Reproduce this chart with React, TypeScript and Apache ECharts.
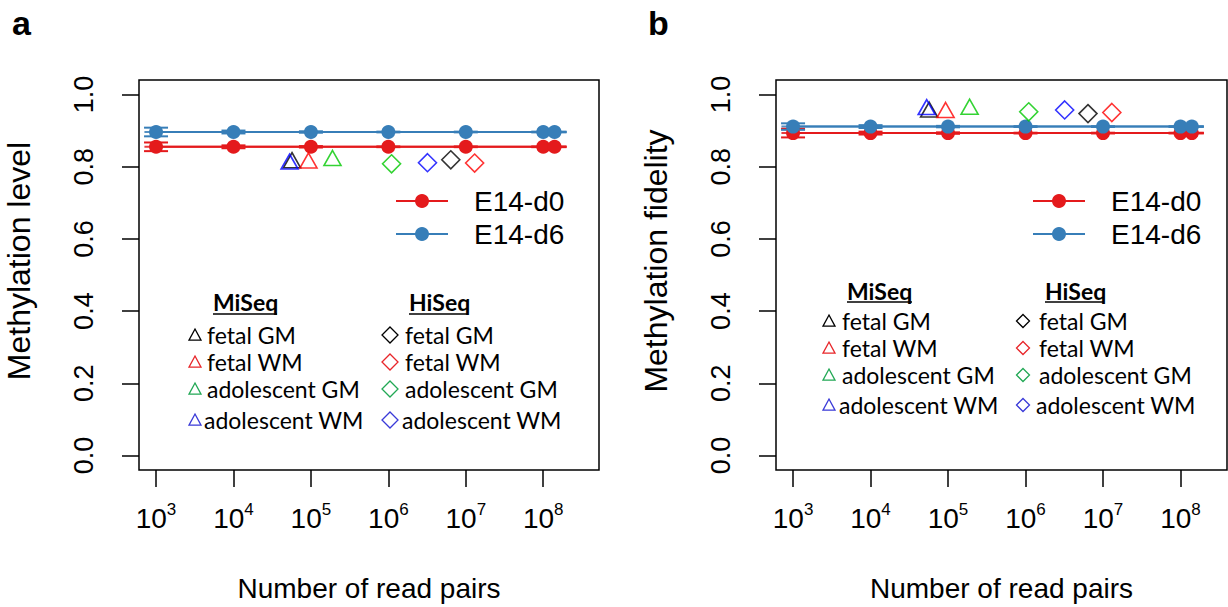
import React, { useEffect, useRef } from "react";
import * as echarts from "echarts";

// ---------- data ----------
const READ_PAIRS = [1e3, 1e4, 1e5, 1e6, 1e7, 1e8, 1.4e8];
const FIT_X = [708, 2.0e8];

const LEVEL_D0 = [0.855, 0.855, 0.855, 0.855, 0.855, 0.855, 0.855];
const LEVEL_D0_ERR = [0.012, 0.004, 0.002, 0.001, 0.001, 0.001, 0.001];
const LEVEL_D6 = [0.896, 0.896, 0.896, 0.896, 0.896, 0.896, 0.896];
const LEVEL_D6_ERR = [0.012, 0.004, 0.002, 0.001, 0.001, 0.001, 0.001];

const FID_D0 = [0.893, 0.893, 0.893, 0.893, 0.893, 0.893, 0.893];
const FID_D0_ERR = [0.012, 0.004, 0.002, 0.001, 0.001, 0.001, 0.001];
const FID_D6 = [0.911, 0.911, 0.911, 0.911, 0.911, 0.911, 0.911];
const FID_D6_ERR = [0.009, 0.004, 0.002, 0.001, 0.001, 0.001, 0.001];

// samples: fetal GM, fetal WM, adolescent GM, adolescent WM
const SAMPLE_NAMES = ["fetal GM", "fetal WM", "adolescent GM", "adolescent WM"];
const SAMPLE_COLORS = ["#000000", "#FF0000", "#00C800", "#0000FF"];
const LEGEND_COLORS = ["#000000", "#E8262A", "#22A855", "#3A3AD8"];
const MISEQ_READS = [5.7e4, 9.3e4, 1.9e5, 5.3e4];
const HISEQ_READS = [6.4e6, 1.3e7, 1.1e6, 3.2e6];
const MISEQ_LEVEL = [0.818, 0.817, 0.824, 0.814];
const HISEQ_LEVEL = [0.819, 0.81, 0.808, 0.811];
const MISEQ_FID = [0.958, 0.957, 0.966, 0.965];
const HISEQ_FID = [0.947, 0.95, 0.952, 0.957];

const X_TICKS = [3, 4, 5, 6, 7, 8];
const Y_TICKS = [0, 0.2, 0.4, 0.6, 0.8, 1.0];

const RED = "#E41A1C";
const BLUE = "#377EB8";
const AXIS_FONT = "Liberation Sans, Arial, sans-serif";
const LEG_FONT = "Lato, Open Sans, sans-serif";

const lg = (v: number) => Math.log10(v);

function errSeries(grid: number, ys: number[], errs: number[], color: string) {
  return {
    type: "custom",
    xAxisIndex: grid,
    yAxisIndex: grid,
    z: 4,
    silent: true,
    data: READ_PAIRS.map((x, i) => [lg(x), ys[i], errs[i]]),
    renderItem: (params: any, api: any) => {
      const x = api.value(0);
      const y = api.value(1);
      const e = api.value(2);
      const lo = api.coord([x, y - e]);
      const hi = api.coord([x, y + e]);
      const hw = 12;
      const st = { stroke: color, lineWidth: 2 };
      return {
        type: "group",
        children: [
          { type: "line", shape: { x1: lo[0], y1: lo[1], x2: hi[0], y2: hi[1] }, style: st },
          { type: "line", shape: { x1: lo[0] - hw, y1: lo[1], x2: lo[0] + hw, y2: lo[1] }, style: st },
          { type: "line", shape: { x1: hi[0] - hw, y1: hi[1], x2: hi[0] + hw, y2: hi[1] }, style: st },
        ],
      };
    },
  };
}

function fitSeries(grid: number, y: number, color: string) {
  return {
    type: "line",
    xAxisIndex: grid,
    yAxisIndex: grid,
    symbol: "none",
    z: 2,
    lineStyle: { color, width: 2, opacity: 0.85 },
    data: FIT_X.map((x) => [lg(x), y]),
  };
}

function pointSeries(grid: number, ys: number[], color: string, name: string) {
  return {
    type: "line",
    name,
    xAxisIndex: grid,
    yAxisIndex: grid,
    symbol: "circle",
    symbolSize: 14,
    z: 5,
    itemStyle: { color },
    lineStyle: { color, width: 2 },
    data: READ_PAIRS.map((x, i) => [lg(x), ys[i]]),
  };
}

function markerSeries(grid: number, xs: number[], ys: number[], symbol: string, size: any) {
  return xs.map((x, i) => ({
    type: "scatter",
    xAxisIndex: grid,
    yAxisIndex: grid,
    symbol,
    symbolSize: size,
    z: 6,
    itemStyle: { color: "rgba(0,0,0,0)", borderColor: SAMPLE_COLORS[i], borderWidth: 1.6 },
    data: [[lg(x), ys[i]]],
  }));
}

function xAxis(grid: number, max: number) {
  return {
    type: "value",
    gridIndex: grid,
    min: 2.78,
    max,
    axisLine: { show: false, onZero: false },
    splitLine: { show: false },
    axisTick: { show: true, length: 17, lineStyle: { color: "#000", width: 1.5 }, customValues: X_TICKS },
    axisLabel: {
      customValues: X_TICKS,
      margin: 31,
      formatter: (v: number) => `{b|10}{s|${Math.round(v)}}`,
      rich: {
        b: { fontSize: 28, fontFamily: AXIS_FONT, color: "#000", lineHeight: 34 },
        s: { fontSize: 17, fontFamily: AXIS_FONT, color: "#000", lineHeight: 16, verticalAlign: "top" },
      },
    },
    name: "Number of read pairs",
    nameLocation: "middle",
    nameGap: 104,
    nameTextStyle: { fontSize: 28, fontFamily: AXIS_FONT, color: "#000" },
  };
}

function yAxis(grid: number, name: string) {
  return {
    type: "value",
    gridIndex: grid,
    min: -0.04,
    max: 1.04,
    axisLine: { show: false, onZero: false },
    splitLine: { show: false },
    axisTick: { show: true, length: 17, lineStyle: { color: "#000", width: 1.5 }, customValues: Y_TICKS },
    axisLabel: {
      customValues: Y_TICKS,
      rotate: 90,
      margin: 42,
      fontSize: 27,
      fontFamily: AXIS_FONT,
      color: "#000",
      formatter: (v: number) => v.toFixed(1),
    },
    name,
    nameLocation: "middle",
    nameRotate: 90,
    nameGap: 104,
    nameTextStyle: { fontSize: 32, fontFamily: AXIS_FONT, color: "#000", padding: [0, 0, 0, 28] },
  };
}

function lineLegend(x0: number, x1: number, dotX: number, textX: number, ys: number[]) {
  const colors = [RED, BLUE];
  const labels = ["E14-d0", "E14-d6"];
  const out: any[] = [];
  ys.forEach((y, i) => {
    out.push({ type: "line", shape: { x1: x0, y1: y, x2: x1, y2: y }, style: { stroke: colors[i], lineWidth: 2 } });
    out.push({ type: "circle", shape: { cx: dotX, cy: y, r: 7 }, style: { fill: colors[i] } });
    out.push({
      type: "text",
      x: textX,
      y,
      style: { text: labels[i], fontSize: 28, fontFamily: AXIS_FONT, fill: "#000", verticalAlign: "middle", align: "left" },
    });
  });
  return out;
}

function sampleLegend(cfg: {
  miX: number; hiX: number; headY: number; ulY: number; miW: number; hiW: number;
  triX: number; diaX: number; textX: number[]; diaTextX: number[]; rows: number[]; tri: number; dia: number;
}) {
  const out: any[] = [];
  out.push({ type: "text", x: cfg.miX, y: cfg.headY, style: { text: "MiSeq", fontSize: 23, fontWeight: "bold", fontFamily: LEG_FONT, fill: "#000", verticalAlign: "middle" } });
  out.push({ type: "text", x: cfg.hiX, y: cfg.headY, style: { text: "HiSeq", fontSize: 23, fontWeight: "bold", fontFamily: LEG_FONT, fill: "#000", verticalAlign: "middle" } });
  out.push({ type: "line", shape: { x1: cfg.miX, y1: cfg.ulY, x2: cfg.miX + cfg.miW, y2: cfg.ulY }, style: { stroke: "#000", lineWidth: 1.6 } });
  out.push({ type: "line", shape: { x1: cfg.hiX, y1: cfg.ulY, x2: cfg.hiX + cfg.hiW, y2: cfg.ulY }, style: { stroke: "#000", lineWidth: 1.6 } });
  cfg.rows.forEach((y, i) => {
    const t = cfg.tri / 2;
    out.push({
      type: "polygon",
      shape: { points: [[cfg.triX, y - t], [cfg.triX + t, y + t * 0.85], [cfg.triX - t, y + t * 0.85]] },
      style: { fill: "none", stroke: LEGEND_COLORS[i], lineWidth: 1.3 },
    });
    const d = cfg.dia / 2;
    out.push({
      type: "polygon",
      shape: { points: [[cfg.diaX, y - d], [cfg.diaX + d, y], [cfg.diaX, y + d], [cfg.diaX - d, y]] },
      style: { fill: "none", stroke: LEGEND_COLORS[i], lineWidth: 1.3 },
    });
    out.push({ type: "text", x: cfg.textX[i], y, style: { text: SAMPLE_NAMES[i], fontSize: 23, fontFamily: LEG_FONT, fill: "#000", verticalAlign: "middle" } });
    out.push({ type: "text", x: cfg.diaTextX[i], y, style: { text: SAMPLE_NAMES[i], fontSize: 23, fontFamily: LEG_FONT, fill: "#000", verticalAlign: "middle" } });
  });
  return out;
}

export default function App() {
  const ref = useRef<HTMLDivElement>(null);
  useEffect(() => {
    if (!ref.current) return;
    const chart = echarts.init(ref.current, null, { renderer: "svg" });
    const option: any = {
      animation: false,
      backgroundColor: "#fff",
      grid: [
        { left: 139, right: 629, top: 80, bottom: 133, show: true, borderColor: "#000", borderWidth: 1.5, backgroundColor: "transparent" },
        { left: 776, right: 1, top: 80, bottom: 133, show: true, borderColor: "#000", borderWidth: 1.5, backgroundColor: "transparent" },
      ],
      xAxis: [xAxis(0, 8.72), xAxis(1, 8.6)],
      yAxis: [yAxis(0, "Methylation level"), yAxis(1, "Methylation fidelity")],
      series: [
        fitSeries(0, LEVEL_D0[0], RED),
        fitSeries(0, LEVEL_D6[0], BLUE),
        pointSeries(0, LEVEL_D0, RED, "E14-d0"),
        errSeries(0, LEVEL_D0, LEVEL_D0_ERR, RED),
        pointSeries(0, LEVEL_D6, BLUE, "E14-d6"),
        errSeries(0, LEVEL_D6, LEVEL_D6_ERR, BLUE),
        ...markerSeries(0, MISEQ_READS, MISEQ_LEVEL, "triangle", [17, 15]),
        ...markerSeries(0, HISEQ_READS, HISEQ_LEVEL, "diamond", 18),
        fitSeries(1, FID_D0[0], RED),
        fitSeries(1, FID_D6[0], BLUE),
        pointSeries(1, FID_D0, RED, "E14-d0"),
        errSeries(1, FID_D0, FID_D0_ERR, RED),
        pointSeries(1, FID_D6, BLUE, "E14-d6"),
        errSeries(1, FID_D6, FID_D6_ERR, BLUE),
        ...markerSeries(1, MISEQ_READS, MISEQ_FID, "triangle", [17, 15]),
        ...markerSeries(1, HISEQ_READS, HISEQ_FID, "diamond", 18),
      ],
      graphic: [
        { type: "text", x: 12, y: 6, style: { text: "a", fontSize: 34, fontWeight: "bold", fontFamily: AXIS_FONT, fill: "#000" } },
        { type: "text", x: 648, y: 6, style: { text: "b", fontSize: 34, fontWeight: "bold", fontFamily: AXIS_FONT, fill: "#000" } },
        ...lineLegend(396, 448, 422, 474, [201, 234]),
        ...lineLegend(1033, 1085, 1059, 1111, [201, 234]),
        ...sampleLegend({
          miX: 213, hiX: 409, headY: 302, ulY: 314, miW: 64, hiW: 59,
          triX: 195, diaX: 390, textX: [207, 207, 207, 204], diaTextX: [405, 405, 405, 402],
          rows: [335, 362, 389, 420], tri: 12, dia: 16,
        }),
        ...sampleLegend({
          miX: 847, hiX: 1045, headY: 291, ulY: 302, miW: 65, hiW: 58,
          triX: 829, diaX: 1023, textX: [842, 842, 842, 839], diaTextX: [1039, 1039, 1039, 1036],
          rows: [321, 348, 375, 405], tri: 12, dia: 13,
        }),
      ],
    };
    chart.setOption(option);
    return () => chart.dispose();
  }, []);
  return <div ref={ref} style={{ position: "fixed", left: 0, top: 0, width: 1228, height: 607 }} />;
}
